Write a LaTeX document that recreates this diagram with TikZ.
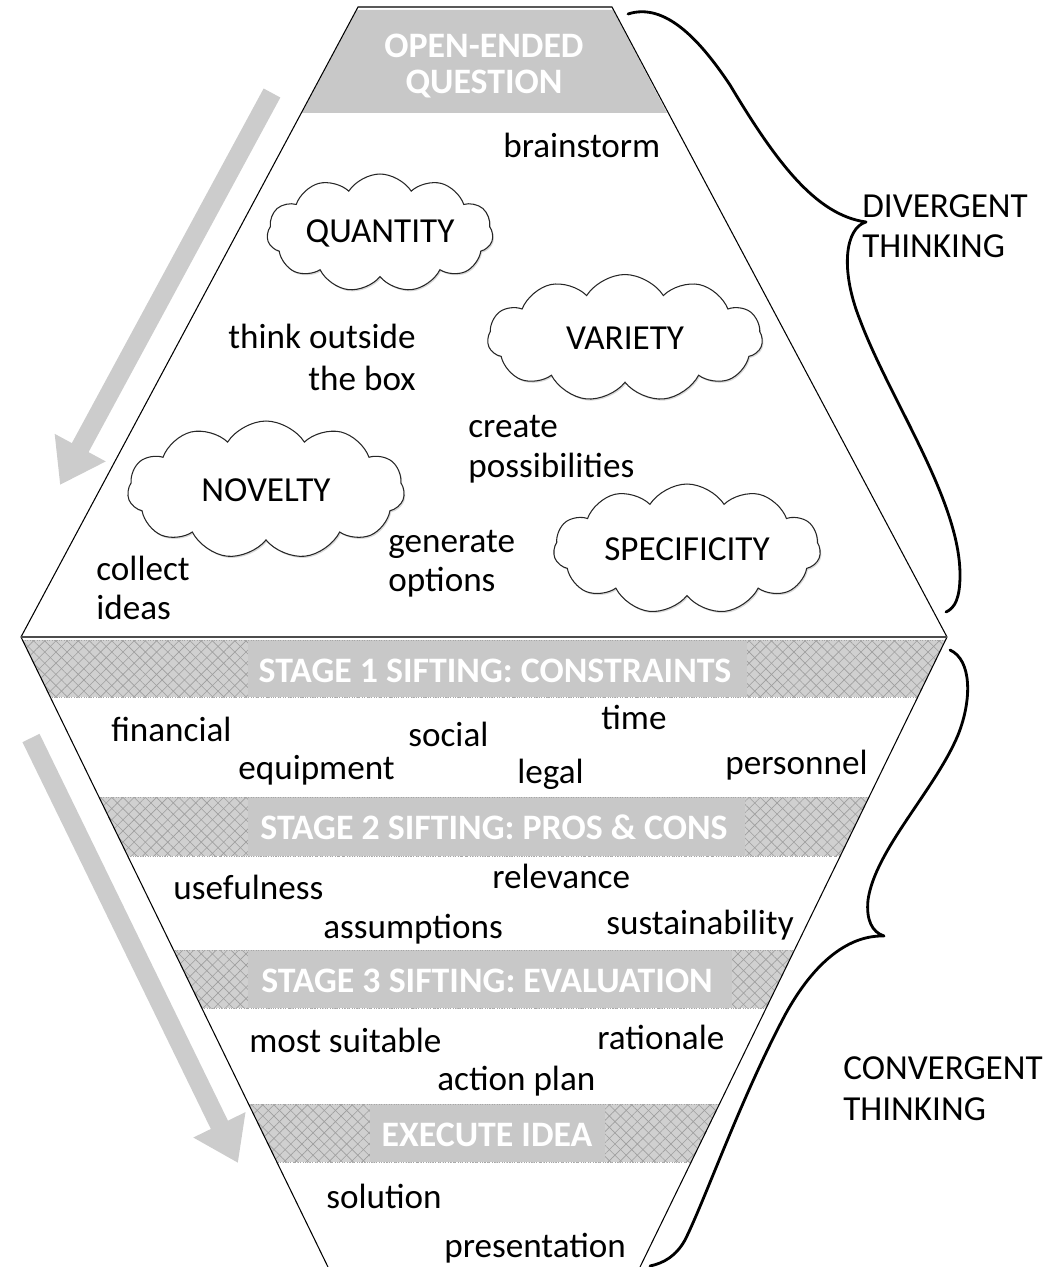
\documentclass[tikz,border=0pt]{standalone}
\usepackage{fontspec}
\setmainfont{Carlito}
\usetikzlibrary{shapes.symbols,arrows.meta,patterns.meta,shadows}

\definecolor{bandgray}{HTML}{C8C8C8}
\definecolor{arrowgray}{HTML}{CCCCCC}
\definecolor{hatchline}{HTML}{9E9E9E}

\tikzset{
  txt/.style={font=\fontsize{20}{24}\selectfont},
  word/.style={txt, anchor=base west, inner sep=0pt},
  wordr/.style={txt, anchor=base east, inner sep=0pt},
  banner/.style={inner sep=0pt, text=white, font=\bfseries\fontsize{20.4}{24}\selectfont},
  puff/.style={cloud, cloud puffs=11, cloud puff arc=115, cloud ignores aspect,
    draw=black!85, fill=white, line width=0.6pt, txt,
    drop shadow={shadow xshift=0.7pt, shadow yshift=-0.9pt, opacity=0.3}},
  rim/.style={line width=0.6pt, black},
  curly/.style={line width=1.6pt, black, line cap=round, line join=round},
  flow/.style={line width=0.38cm, arrowgray, -{Triangle[width=1.1cm,length=0.85cm]}},
  hatchA/.style={pattern={Lines[angle=45,distance=4.5pt,line width=0.35pt]}, pattern color=hatchline},
  hatchB/.style={pattern={Lines[angle=-45,distance=4.5pt,line width=0.35pt]}, pattern color=hatchline},
}

\begin{document}
\begin{tikzpicture}[x=0.02cm, y=-0.02cm]
\useasboundingbox (0,0) rectangle (1061,1267);

% corners of the funnel outline
\coordinate (tl) at (358,7);
\coordinate (tr) at (612,7);
\coordinate (ml) at (21,637);
\coordinate (mr) at (947,637);
\coordinate (bl) at (328,1267);
\coordinate (br) at (640,1267);

% direction arrows
\coordinate (a1s) at (272,93);
\coordinate (a1e) at (60,485);
\coordinate (a2s) at (31,738);
\coordinate (a2e) at (238,1163);
\draw[flow] (a1s) -- (a1e);
\draw[flow] (a2s) -- (a2e);

% heading band of the upper part
\fill[bandgray] (357,10) -- (613,10) -- (667,113) -- (302,113) -- cycle;
\node[banner] (q1) at (484,46) {OPEN-ENDED};
\node[banner] (q2) at (484,84) {QUESTION};

% sifting bands of the lower part
\begin{scope}
  \clip (ml) -- (mr) -- (br) -- (bl) -- cycle;
  \foreach \ya/\yb/\xa/\xb in {640/697/248/747, 797/856/248/745, 950/1008/248/732, 1104/1162/370/605} {
    \fill[bandgray!85] (0,\ya) rectangle (1061,\yb);
    \fill[hatchA] (0,\ya) rectangle (1061,\yb);
    \fill[hatchB] (0,\ya) rectangle (1061,\yb);
    \fill[bandgray] (\xa,\ya) rectangle (\xb,\yb);
    \draw[densely dotted, gray!70, line width=0.4pt] (0,\ya) -- (1061,\ya) (0,\yb) -- (1061,\yb);
  }
\end{scope}
\node[banner] (s1) at (495,671) {STAGE 1 SIFTING: CONSTRAINTS};
\node[banner] (s2) at (494,827) {STAGE 2 SIFTING: PROS \& CONS};
\node[banner] (s3) at (487,981) {STAGE 3 SIFTING: EVALUATION};
\node[banner] (s4) at (487,1135) {EXECUTE IDEA};

% outline
\draw[rim] (bl) -- (ml) -- (tl) -- (tr) -- (mr) -- (br);
\draw[line width=1.4pt, black!70] (ml) -- (mr);

% clouds
\node[puff, minimum width=4.2cm, minimum height=2.36cm] (quantity) at (380,233) {QUANTITY};
\node[puff, minimum width=5.5cm, minimum height=2.54cm] (variety) at (625,338) {VARIETY};
\node[puff, minimum width=5.54cm, minimum height=2.76cm] (novelty) at (266,490) {NOVELTY};
\node[puff, minimum width=5.34cm, minimum height=2.6cm] (specificity) at (687,549) {SPECIFICITY};

% words of the divergent part
\node[word] (w1) at (503,158) {brainstorm};
\node[wordr] (w2) at (416,348) {think outside};
\node[wordr] (w3) at (416,390) {the box};
\node[word] (w4) at (468,437) {create};
\node[word] (w5) at (468,477) {possibilities};
\node[word] (w6) at (388,552) {generate};
\node[word] (w7) at (388,591) {options};
\node[word] (w8) at (96,580) {collect};
\node[word] (w9) at (96,619) {ideas};

% words of the convergent part
\node[word] (c1) at (111,741) {financial};
\node[word] (c2) at (408,746) {social};
\node[word] (c3) at (601,729) {time};
\node[word] (c4) at (238,779) {equipment};
\node[word] (c5) at (517,783) {legal};
\node[word] (c6) at (725,774) {personnel};
\node[word] (c7) at (173,899) {usefulness};
\node[word] (c8) at (492,888) {relevance};
\node[word] (c9) at (323,938) {assumptions};
\node[word] (c10) at (606,934) {sustainability};
\node[word] (c11) at (249,1052) {most suitable};
\node[word] (c12) at (597,1049) {rationale};
\node[word] (c13) at (437,1090) {action plan};
\node[word] (c14) at (326,1208) {solution};
\node[word] (c15) at (444,1257) {presentation};

% braces and their captions
\draw[curly] (628,14) .. controls (665,2) and (700,40) .. (730,85)
  .. controls (775,160) and (815,215) .. (866,222)
  .. controls (845,228) and (840,270) .. (860,320)
  .. controls (890,400) and (960,500) .. (960,575)
  .. controls (960,598) and (955,608) .. (946,612);
\draw[curly] (950,650) .. controls (972,660) and (972,700) .. (958,735)
  .. controls (935,790) and (875,850) .. (868,900)
  .. controls (866,920) and (872,932) .. (884,936)
  .. controls (850,935) and (815,960) .. (785,1015)
  .. controls (740,1100) and (705,1200) .. (685,1240)
  .. controls (676,1256) and (664,1263) .. (650,1266);
\node[word] (d1) at (862,217) {DIVERGENT};
\node[word] (d2) at (862,257) {THINKING};
\node[word] (v1) at (843,1079) {CONVERGENT};
\node[word] (v2) at (843,1120) {THINKING};
\end{tikzpicture}
\end{document}
